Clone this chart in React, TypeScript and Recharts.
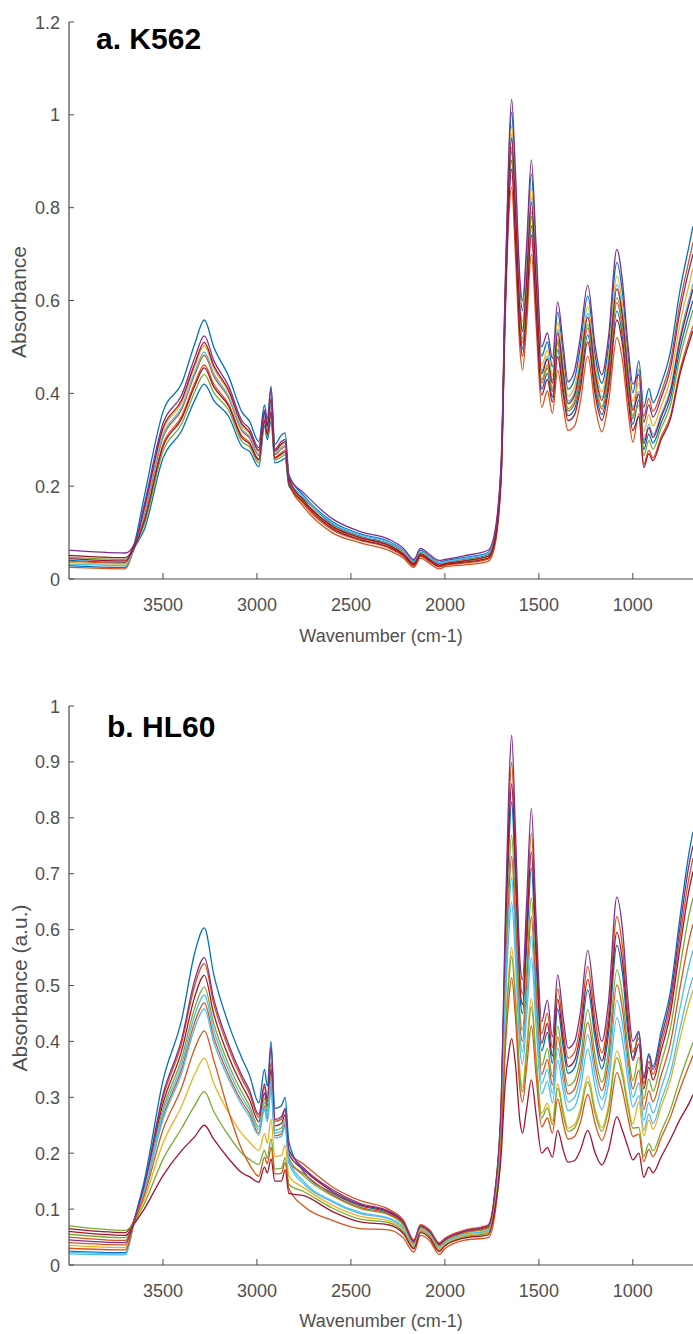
import React from 'react';
import { LineChart, Line, XAxis, YAxis } from 'recharts';

// ---------- shared x values (wavenumber, cm-1) ----------
const wavenumbers = [4000, 3700, 3650, 3600, 3500, 3400, 3330, 3280, 3230, 3150, 3080, 3040, 2990, 2960, 2945, 2925, 2905, 2870, 2850, 2830, 2750, 2600, 2450, 2300, 2220, 2165, 2130, 2080, 2030, 2000, 1900, 1770, 1735, 1700, 1680, 1660, 1645, 1625, 1600, 1587, 1565, 1540, 1515, 1485, 1455, 1428, 1400, 1370, 1345, 1310, 1280, 1240, 1200, 1165, 1130, 1085, 1055, 1025, 1000, 968, 942, 915, 893, 850, 800, 750, 700, 680];

const xTicks = [3500, 3000, 2500, 2000, 1500, 1000];
const k562YTicks = [0, 0.2, 0.4, 0.6, 0.8, 1, 1.2];
const hl60YTicks = [0, 0.1, 0.2, 0.3, 0.4, 0.5, 0.6, 0.7, 0.8, 0.9, 1];

// ---------- K562 spectra ----------
const k562_1 = [.040,.036,.080,.177,.36,.422,.508,.558,.50,.436,.36,.34,.296,.375,.345,.415,.29,.31,.315,.225, .179,.124,.097,.081,.062,.039,.062,.048,.036,.039,.046,.057,.094, .254,.61,.899,1.006,.853,.618,.578,.695,.873,.695,.48,.511,.457,.575,.48,.409,.432,.499,.61,.48,.422,.499,.682,.615,.479,.401, .47,.37,.41,.38,.42,.49,.62,.72,.76];
const k562_2 = [.062,.056, .077,.159,.335,.397,.478,.524,.471,.415,.341,.324,.283,.364,.334,.41,.28,.296,.301,.219, .185,.13,.102,.086,.066,.042,.066,.052,.04,.042,.05,.062,.10, .26,.62,.92,1.034,.88,.64,.60,.72,.903,.72,.50,.53,.475,.597,.50,.425,.45,.52,.633,.50,.44,.52,.71,.64,.50,.42, .44,.338,.375,.349,.39,.454,.575,.668,.70];
const k562_3 = [.025,.022, .072,.127,.29,.351,.423,.461,.42,.376,.308,.295,.258,.344,.314,.363,.262,.272,.277,.208, .155,.10,.078,.062,.045,.025,.045,.033,.022,.026,.03,.038,.07, .22,.55,.78,.845,.70,.49,.45,.55,.70,.55,.37,.405,.357,.45,.37,.32,.33,.38,.48,.37,.317,.38,.52,.47,.36,.295, .356,.247,.277,.261,.306,.352,.449,.52,.545];
const k562_4 = [.036,.032, .075,.149,.32,.381,.459,.503,.454,.402,.33,.314,.274,.357,.327,.385,.274,.288,.293,.215, .17,.115,.09,.074,.056,.034,.056,.043,.031,.034,.04,.05,.085, .248,.599,.878,.977,.826,.595,.555,.669,.842,.669,.461,.493,.44,.553,.461,.394,.414,.478,.587,.461,.403,.478,.653,.589,.458,.383, .422,.318,.354,.33,.372,.432,.548,.636,.67];
const k562_5 = [.047,.042, .07,.117,.275,.335,.404,.441,.402,.363,.296,.285,.25,.337,.307,.351,.256,.263,.268,.204, .167,.112,.088,.072,.053,.032,.053,.041,.029,.032,.038,.048,.082, .238,.582,.843,.93,.781,.558,.518,.627,.791,.627,.429,.461,.41,.516,.429,.367,.384,.443,.549,.429,.372,.443,.606,.547,.423,.351, .374,.266,.298,.28,.324,.374,.476,.552,.58];
const k562_6 = [.032,.029, .074,.142,.31,.371,.447,.489,.443,.393,.323,.308,.269,.353,.323,.378,.27,.283,.288,.213, .176,.121,.095,.079,.06,.037,.06,.046,.035,.037,.044,.055,.091, .244,.592,.864,.958,.808,.58,.54,.652,.822,.652,.448,.48,.428,.538,.448,.383,.402,.464,.572,.448,.391,.464,.634,.572,.444,.37, .404,.299,.333,.311,.354,.41,.521,.605,.636];
const k562_7 = [.044,.039, .071,.124,.285,.346,.417,.455,.414,.372,.304,.291,.256,.341,.311,.359,.26,.269,.274,.206, .164,.109,.085,.069,.051,.03,.051,.039,.027,.031,.036,.045,.079, .228,.564,.808,.883,.736,.52,.48,.584,.741,.584,.396,.43,.381,.479,.396,.341,.354,.408,.511,.396,.342,.408,.558,.504,.388,.32, .35,.24,.27,.255,.30,.345,.44,.51,.535];
const k562_8 = [.029,.025, .068,.106,.26,.32,.386,.42,.385,.35,.285,.275,.242,.33,.30,.34,.25,.255,.26,.20, .173,.118,.092,.076,.058,.035,.058,.044,.033,.036,.042,.052,.088, .232,.571,.822,.902,.754,.535,.495,.601,.761,.601,.409,.443,.392,.494,.409,.352,.366,.422,.526,.409,.354,.422,.577,.521,.402,.333, .386,.279,.312,.293,.336,.389,.494,.573,.60];
const k562_9 = [.038,.034, .073,.138,.305,.366,.441,.482,.437,.389,.319,.304,.266,.35,.32,.374,.268,.28,.285,.211, .161,.106,.083,.067,.049,.028,.049,.037,.026,.029,.034,.043,.076, .236,.578,.836,.921,.772,.55,.51,.618,.781,.618,.422,.455,.404,.509,.422,.362,.378,.436,.541,.422,.366,.436,.596,.538,.416,.345, .452,.35,.389,.361,.402,.468,.593,.689,.725];
const k562_10 = [.051,.046, .076,.152,.325,.386,.465,.51,.46,.406,.334,.317,.277,.359,.329,.389,.276,.291,.296,.216, .169,.114,.089,.073,.054,.033,.054,.042,.03,.033,.039,.049,.084, .242,.589,.857,.949,.799,.573,.533,.644,.812,.644,.442,.474,.422,.531,.442,.378,.396,.457,.564,.442,.385,.457,.625,.564,.437,.364, .398,.292,.326,.305,.348,.403,.512,.594,.625];

// ---------- HL60 spectra ----------
const hl60_1 = [.045,.04, .084,.143,.305,.405,.511,.55,.476,.394,.339,.313,.269,.324,.297,.39,.26,.265,.28,.206, .173,.135,.11,.097,.077,.043,.07,.06,.038,.046,.06,.07,.126, .30,.60,.85,.948,.78,.54,.51,.65,.817,.62,.435,.474,.408,.519,.44,.388,.40,.45,.563,.46,.40,.47,.658,.60,.47,.40, .418,.334,.375,.35,.406,.477,.602,.718,.75];
const hl60_2 = [.025,.022, .085,.15,.33,.44,.56,.603,.52,.43,.37,.34,.29,.35,.32,.40,.28,.285,.30,.22, .166,.129,.106,.093,.074,.041,.069,.059,.036,.044,.059,.068,.122, .278,.538,.747,.829,.688,.477,.45,.569,.71,.543,.383,.416,.361,.458,.388,.343,.353,.396,.492,.403,.351,.412,.572,.521,.413,.37, .415,.335,.378,.355,.417,.49,.62,.74,.775];
const hl60_3 = [.05,.044, .083,.141,.299,.398,.501,.539,.467,.387,.333,.307,.264,.319,.292,.362,.257,.261,.277,.203, .18,.14,.115,.10,.08,.045,.072,.062,.04,.048,.062,.072,.13, .291,.575,.808,.899,.742,.514,.485,.617,.773,.589,.414,.45,.389,.494,.419,.37,.381,.428,.534,.437,.38,.446,.623,.568,.447,.381, .406,.324,.364,.341,.395,.464,.584,.695,.728];
const hl60_4 = [.065,.058, .083,.138,.289,.384,.481,.518,.449,.372,.321,.296,.256,.308,.283,.35,.249,.253,.269,.198, .17,.132,.108,.095,.076,.042,.069,.059,.037,.045,.059,.069,.124, .284,.555,.775,.861,.713,.494,.466,.591,.739,.564,.397,.432,.374,.475,.402,.355,.366,.411,.511,.418,.365,.428,.595,.542,.428,.366, .395,.315,.354,.331,.383,.45,.566,.673,.704];
const hl60_5 = [.07,.062, .082,.135,.279,.37,.461,.497,.432,.358,.309,.285,.247,.298,.274,.337,.241,.245,.261,.192, .159,.124,.101,.09,.071,.039,.067,.057,.034,.043,.057,.065,.118, .267,.508,.695,.769,.641,.446,.42,.528,.657,.505,.357,.387,.337,.427,.362,.321,.33,.369,.457,.374,.327,.383,.528,.481,.384,.33, .372,.297,.333,.311,.361,.424,.53,.628,.657];
const hl60_6 = [.04,.036, .081,.131,.265,.351,.435,.469,.408,.339,.292,.271,.236,.284,.261,.32,.231,.234,.251,.185, .163,.126,.103,.091,.073,.04,.068,.058,.035,.044,.058,.067,.12, .26,.488,.662,.731,.612,.426,.40,.502,.623,.48,.341,.368,.322,.408,.346,.306,.315,.352,.434,.356,.312,.364,.501,.456,.366,.315, .349,.278,.312,.292,.339,.397,.494,.583,.61];
const hl60_7 = [.02,.018, .081,.13,.26,.344,.425,.458,.399,.332,.286,.265,.232,.278,.256,.314,.227,.23,.247,.182, .145,.113,.092,.083,.065,.035,.064,.054,.03,.039,.054,.061,.11, .253,.468,.629,.693,.583,.406,.381,.476,.589,.456,.325,.35,.307,.388,.33,.292,.30,.335,.412,.338,.296,.345,.473,.431,.348,.30, .326,.259,.291,.272,.316,.371,.458,.538,.563];
const hl60_8 = [.035,.031, .078,.117,.218,.285,.342,.37,.325,.272,.235,.22,.205,.235,.218,.261,.194,.196,.214,.159, .138,.107,.087,.079,.062,.033,.062,.052,.028,.037,.052,.059,.106, .23,.404,.521,.568,.486,.341,.318,.391,.477,.375,.271,.289,.258,.324,.276,.245,.251,.279,.338,.278,.245,.285,.383,.348,.288,.252, .292,.231,.259,.243,.283,.331,.404,.47,.492];
const hl60_9 = [.055,.049, .077,.109,.189,.245,.286,.31,.275,.231,.20,.189,.18,.205,.191,.226,.172,.173,.192,.144, .131,.102,.082,.076,.059,.031,.06,.05,.026,.035,.05,.057,.102, .227,.396,.507,.552,.473,.332,.31,.38,.462,.365,.263,.281,.251,.316,.268,.239,.245,.271,.328,.27,.239,.277,.371,.337,.28,.245, .246,.194,.217,.204,.238,.278,.332,.38,.398];
const hl60_10 = [.03,.027, .08,.124,.242,.318,.388,.419,.367,.274,.206,.18,.159,.193,.181,.211,.163,.164,.183,.137, .105,.08,.065,.063,.048,.023,.053,.043,.019,.029,.044,.049,.088, .22,.376,.474,.514,.444,.312,.291,.354,.428,.34,.247,.263,.236,.297,.252,.225,.23,.254,.305,.252,.223,.258,.344,.312,.262,.23, .234,.185,.207,.194,.227,.265,.314,.358,.375];
const hl60_11 = [.06,.053, .075,.10,.16,.205,.23,.25,.225,.19,.165,.158,.148,.175,.165,.19,.15,.15,.17,.128, .124,.096,.077,.072,.056,.029,.058,.048,.024,.034,.048,.054,.098, .20,.32,.38,.405,.36,.255,.236,.28,.331,.27,.20,.21,.193,.241,.205,.184,.187,.205,.241,.20,.179,.205,.265,.24,.21,.188, .20,.157,.175,.165,.193,.225,.26,.29,.305];
const hl60_12 = [.023,.02, .082,.133,.272,.36,.448,.483,.42,.348,.30,.278,.242,.291,.267,.329,.236,.239,.256,.189, .149,.115,.094,.084,.067,.036,.064,.054,.031,.04,.054,.062,.112, .245,.446,.592,.649,.549,.383,.359,.447,.55,.428,.306,.329,.29,.366,.311,.276,.283,.315,.386,.317,.278,.324,.442,.402,.327,.283, .303,.241,.27,.253,.294,.344,.422,.493,.515];

const BLUE = '#0072BD', ORANGE = '#D95319', YELLOW = '#EDB120', PURPLE = '#7E2F8E', GREEN = '#77AC30', CYAN = '#4DBEEE', RED = '#A2142F';

const k562Lines = [
  { key: 'k1', color: BLUE, values: k562_1 },
  { key: 'k8', color: BLUE, values: k562_8 },
  { key: 'k3', color: ORANGE, values: k562_3 },
  { key: 'k9', color: ORANGE, values: k562_9 },
  { key: 'k4', color: YELLOW, values: k562_4 },
  { key: 'k5', color: GREEN, values: k562_5 },
  { key: 'k6', color: CYAN, values: k562_6 },
  { key: 'k7', color: RED, values: k562_7 },
  { key: 'k10', color: RED, values: k562_10 },
  { key: 'k2', color: PURPLE, values: k562_2 },
];

const hl60Lines = [
  { key: 'h2', color: BLUE, values: hl60_2 },
  { key: 'h3', color: ORANGE, values: hl60_3 },
  { key: 'h4', color: RED, values: hl60_4 },
  { key: 'h5', color: GREEN, values: hl60_5 },
  { key: 'h6', color: ORANGE, values: hl60_6 },
  { key: 'h7', color: CYAN, values: hl60_7 },
  { key: 'h12', color: CYAN, values: hl60_12 },
  { key: 'h8', color: YELLOW, values: hl60_8 },
  { key: 'h9', color: GREEN, values: hl60_9 },
  { key: 'h10', color: ORANGE, values: hl60_10 },
  { key: 'h11', color: RED, values: hl60_11 },
  { key: 'h1', color: PURPLE, values: hl60_1 },
];

function buildRows(lines: { key: string; values: number[] }[]) {
  return wavenumbers.map((wn, i) => {
    const row: Record<string, number> = { wn };
    lines.forEach((l) => { row[l.key] = l.values[i]; });
    return row;
  });
}

const k562Rows = buildRows(k562Lines);
const hl60Rows = buildRows(hl60Lines);

const FONT = '"Liberation Sans", Arial, Helvetica, sans-serif';
const AXIS = '#4a4a4a';
const TXT = '#505050';

const XTick = (props: any) => {
  const { x, y, payload } = props;
  return (
    <g>
      <line x1={x} x2={x} y1={y} y2={y - 6} stroke={AXIS} strokeWidth={1} />
      <text x={x} y={y + 32} textAnchor="middle" fontSize={18} fontFamily={FONT} fill={TXT}>{String(payload.value)}</text>
    </g>
  );
};

const YTick = (props: any) => {
  const { x, y, payload } = props;
  return (
    <g>
      <line x1={x} x2={x + 5} y1={y} y2={y} stroke={AXIS} strokeWidth={1} />
      <text x={x - 9} y={y + 6.5} textAnchor="end" fontSize={18} fontFamily={FONT} fill={TXT}>{String(payload.value)}</text>
    </g>
  );
};

function Panel({ rows, lines, yMax, yTicks, height, top, axisH }: any) {
  return (
    <LineChart width={685} height={height} data={rows} margin={{ top, right: 0, bottom: 0, left: 0 }}>
      <XAxis
        dataKey="wn"
        type="number"
        domain={[680, 4000]}
        reversed
        allowDataOverflow
        ticks={xTicks}
        interval={0}
        tick={<XTick />}
        tickLine={false}
        tickSize={0}
        tickMargin={0}
        axisLine={{ stroke: AXIS, strokeWidth: 1.2 }}
        height={axisH}
      />
      <YAxis
        type="number"
        domain={[0, yMax]}
        ticks={yTicks}
        interval={0}
        tick={<YTick />}
        tickLine={false}
        tickSize={0}
        tickMargin={0}
        axisLine={{ stroke: AXIS, strokeWidth: 1.2 }}
        width={61}
      />
      {lines.map((l: any) => (
        <Line key={l.key} type="monotone" dataKey={l.key} stroke={l.color} strokeWidth={1.3} dot={false} isAnimationActive={false} />
      ))}
    </LineChart>
  );
}

const abs = (s: any) => ({ position: 'absolute' as const, fontFamily: FONT, whiteSpace: 'nowrap' as const, ...s });

export default function App() {
  return (
    <div style={{ position: 'relative', width: 693, height: 1334, background: '#fff', overflow: 'hidden' }}>
      <style>{'body{margin:0;} .recharts-surface{display:block;}'}</style>
      <div style={{ position: 'absolute', left: 8, top: 8, width: 685, height: 1326 }}>
        <div style={{ position: 'absolute', left: 0, top: 0 }}>
          <Panel rows={k562Rows} lines={k562Lines} yMax={1.2} yTicks={k562YTicks} height={650} top={14} axisH={79} />
        </div>
        <div style={{ position: 'absolute', left: 0, top: 650 }}>
          <Panel rows={hl60Rows} lines={hl60Lines} yMax={1} yTicks={hl60YTicks} height={668} top={48} axisH={61} />
        </div>

        <div style={abs({ left: 88, top: 16, fontSize: 30, lineHeight: '30px', fontWeight: 'bold', color: '#000' })}>a. K562</div>
        <div style={abs({ left: 99, top: 704, fontSize: 30, lineHeight: '30px', fontWeight: 'bold', color: '#000' })}>b. HL60</div>

        <div style={abs({ left: 61, width: 624, top: 619, textAlign: 'center', fontSize: 18, lineHeight: '18px', color: TXT })}>Wavenumber (cm-1)</div>
        <div style={abs({ left: 61, width: 624, top: 1304, textAlign: 'center', fontSize: 18, lineHeight: '18px', color: TXT })}>Wavenumber (cm-1)</div>

        <div style={abs({ left: 10, top: 294, fontSize: 21, lineHeight: '21px', color: TXT, transform: 'translate(-50%, -50%) rotate(-90deg)' })}>Absorbance</div>
        <div style={abs({ left: 10.5, top: 980, fontSize: 21, lineHeight: '21px', color: TXT, transform: 'translate(-50%, -50%) rotate(-90deg)' })}>Absorbance (a.u.)</div>
      </div>
    </div>
  );
}
